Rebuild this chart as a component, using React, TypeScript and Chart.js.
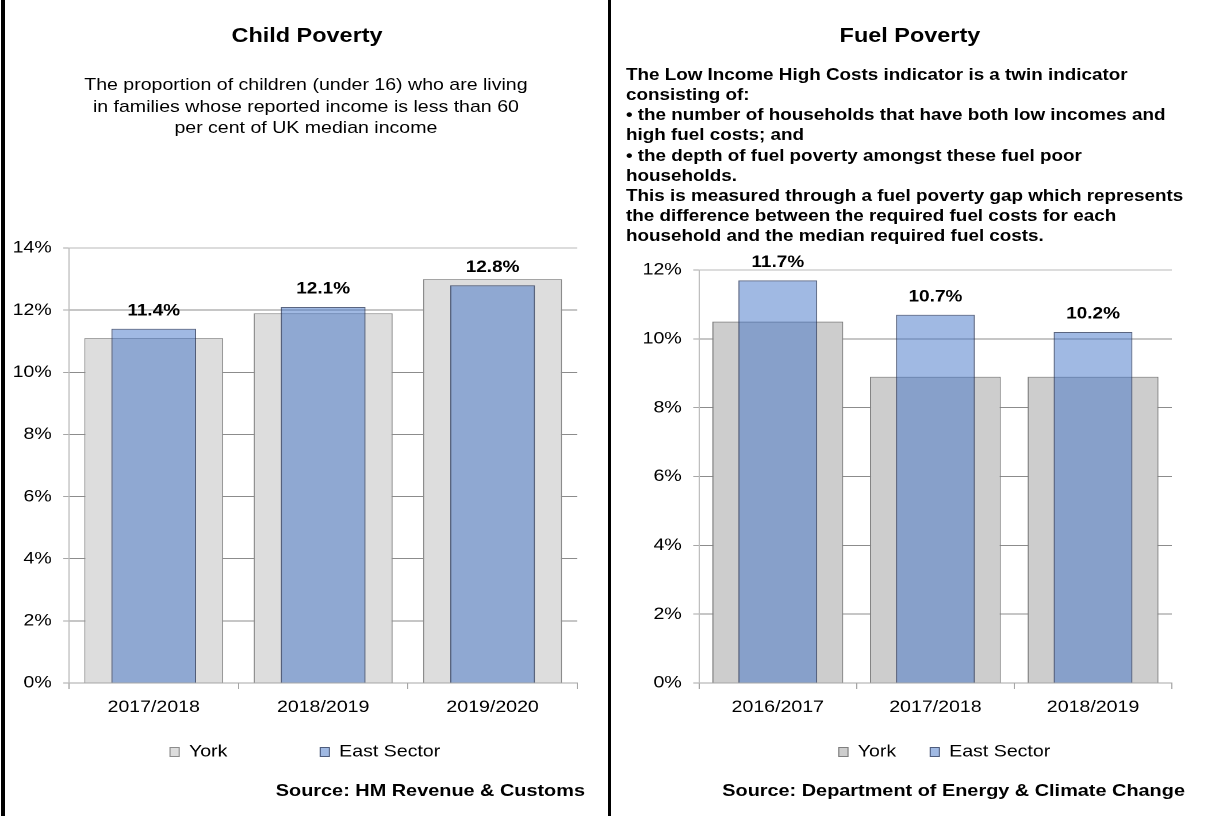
import React, { useEffect, useRef } from 'react';
import { Chart, registerables } from 'chart.js';

Chart.register(...registerables);

// horizontal stretch of the reference rendering
const K = 1.15;
const FONT = "'Liberation Sans', Arial, Helvetica, sans-serif";

// ---------- data ----------
const seriesNames = ['York', 'East Sector'];

const childCategories = ['2017/2018', '2018/2019', '2019/2020'];
const childYork = [11.1, 11.9, 13.0];
const childEast = [11.4, 12.1, 12.8];
const childAxisMax = 14;
const childAxisStep = 2;

const fuelCategories = ['2016/2017', '2017/2018', '2018/2019'];
const fuelYork = [10.5, 8.9, 8.9];
const fuelEast = [11.7, 10.7, 10.2];
const fuelAxisMax = 12;
const fuelAxisStep = 2;

const childTitle = 'Child Poverty';
const childDescription = [
  'The proportion of children (under 16) who are living',
  'in families whose reported income is less than 60',
  'per cent of UK median income',
];
const childSource = 'Source: HM Revenue & Customs';

const fuelTitle = 'Fuel Poverty';
const fuelDescription = [
  'The Low Income High Costs indicator is a twin indicator',
  'consisting of:',
  '\u2022 the number of households that have both low incomes and',
  'high fuel costs; and',
  '\u2022 the depth of fuel poverty amongst these fuel poor',
  'households.',
  'This is measured through a fuel poverty gap which represents',
  'the difference between the required fuel costs for each',
  'household and the median required fuel costs.',
];
const fuelSource = 'Source: Department of Energy & Climate Change';

// ---------- styles ----------
const EAST_FILL = 'rgba(65,115,199,0.5)';
const EAST_BORDER = 'rgba(35,50,85,0.75)';
const AXIS_GREY = '#A6A6A6';

const legendPlace = {
  id: 'legendPlace',
  afterLayout(chart: any, _args: any, opts: any) {
    const lg = chart.legend;
    if (!lg || opts == null || opts.cx == null) return;
    const dx = opts.cx - (lg.left + lg.right) / 2;
    lg.left += dx;
    lg.right += dx;
    const pad = lg.options.labels.padding;
    const itemH = Math.max(lg.options.labels.boxHeight || 0, opts.fontSize);
    lg.top = opts.cy - pad - itemH / 2;
    lg.bottom = opts.cy + itemH / 2 + 6;
  },
};

const barLabels = {
  id: 'barLabels',
  afterDraw(chart: any, _args: any, opts: any) {
    const ctx = chart.ctx;
    const idx = opts.datasetIndex;
    const meta = chart.getDatasetMeta(idx);
    const ds = chart.data.datasets[idx];
    ctx.save();
    ctx.font = `bold ${opts.size}px ${FONT}`;
    ctx.fillStyle = '#000';
    ctx.textAlign = 'center';
    ctx.textBaseline = 'middle';
    meta.data.forEach((el: any, i: number) => {
      ctx.fillText(`${Number(ds.data[i]).toFixed(1)}%`, el.x, el.y - opts.offset);
    });
    ctx.restore();
  },
};

type Spec = {
  categories: string[];
  york: number[];
  east: number[];
  yMax: number;
  yStep: number;
  yorkFill: string;
  yorkBorder: string;
  yorkBar: number;
  eastBar: number;
  left: number;
  top: number;
  width: number;
  height: number;
  padTop: number;
  padRight: number;
  padBottom: number;
  yWidth: number;
  xHeight: number;
  legendGap: number;
  legendCx: number;
  legendCy: number;
};

function makeConfig(s: Spec): any {
  const tickFont = { family: FONT, size: 17 };
  return {
    type: 'bar',
    data: {
      labels: s.categories,
      datasets: [
        {
          label: seriesNames[0],
          data: s.york,
          backgroundColor: s.yorkFill,
          borderColor: s.yorkBorder,
          borderWidth: 1,
          barPercentage: s.yorkBar,
          categoryPercentage: 1,
          order: 2,
        },
        {
          label: seriesNames[1],
          data: s.east,
          backgroundColor: EAST_FILL,
          borderColor: EAST_BORDER,
          borderWidth: 1,
          barPercentage: s.eastBar,
          categoryPercentage: 1,
          order: 1,
        },
      ],
    },
    options: {
      responsive: false,
      animation: false,
      devicePixelRatio: 2,
      events: [],
      layout: { padding: { top: s.padTop, right: s.padRight, bottom: s.padBottom, left: 0 } },
      scales: {
        x: {
          stacked: true,
          offset: true,
          grid: {
            offset: true,
            drawOnChartArea: false,
            drawTicks: true,
            tickLength: 6,
            color: AXIS_GREY,
            lineWidth: 1,
          },
          border: { display: true, color: AXIS_GREY },
          ticks: { font: tickFont, color: '#000', padding: 8, maxRotation: 0 },
          afterFit: (sc: any) => {
            sc.height = s.xHeight;
          },
        },
        y: {
          stacked: false,
          min: 0,
          max: s.yMax,
          z: 1,
          ticks: {
            stepSize: s.yStep,
            font: tickFont,
            color: '#000',
            padding: 10,
            callback: (v: any) => `${v}%`,
          },
          grid: {
            color: (c: any) =>
              c.tick && c.tick.value === s.yMax ? 'rgba(0,0,0,0.28)' : 'rgba(0,0,0,0.45)',
            tickColor: AXIS_GREY,
            tickLength: 5,
            lineWidth: 1,
          },
          border: { color: '#BFBFBF' },
          afterFit: (sc: any) => {
            sc.width = s.yWidth;
          },
        },
      },
      plugins: {
        legend: {
          position: 'bottom',
          maxHeight: 30,
          labels: {
            font: { family: FONT, size: 17 },
            color: '#000',
            boxWidth: 8,
            boxHeight: 9,
            padding: s.legendGap,
            sort: (a: any, b: any) => a.datasetIndex - b.datasetIndex,
          },
        },
        tooltip: { enabled: false },
        legendPlace: { cx: s.legendCx, cy: s.legendCy, fontSize: 17 },
        barLabels: { datasetIndex: 1, size: 16.5, offset: 18 },
      },
    },
    plugins: [legendPlace, barLabels],
  };
}

function BarPanel({ spec }: { spec: Spec }) {
  const ref = useRef<HTMLCanvasElement | null>(null);
  useEffect(() => {
    if (!ref.current) return;
    const chart = new Chart(ref.current, makeConfig(spec));
    return () => chart.destroy();
  }, [spec]);
  return (
    <canvas
      ref={ref}
      width={spec.width}
      height={spec.height}
      style={{
        position: 'absolute',
        left: spec.left,
        top: spec.top,
        width: spec.width,
        height: spec.height,
      }}
    />
  );
}

const childSpec: Spec = {
  categories: childCategories,
  york: childYork,
  east: childEast,
  yMax: childAxisMax,
  yStep: childAxisStep,
  yorkFill: '#DDDDDD',
  yorkBorder: '#8C8C8C',
  yorkBar: 0.82,
  eastBar: 0.5,
  left: 5,
  top: 220,
  width: 511,
  height: 573,
  padTop: 28,
  padRight: 14,
  padBottom: 40,
  yWidth: 55,
  xHeight: 40,
  legendGap: 80.7,
  legendCx: 260.3,
  legendCy: 532,
};

const fuelSpec: Spec = {
  categories: fuelCategories,
  york: fuelYork,
  east: fuelEast,
  yMax: fuelAxisMax,
  yStep: fuelAxisStep,
  yorkFill: '#CDCDCD',
  yorkBorder: '#7F7F7F',
  yorkBar: 0.83,
  eastBar: 0.5,
  left: 533,
  top: 240,
  width: 500,
  height: 553,
  padTop: 30,
  padRight: 14,
  padBottom: 40,
  yWidth: 74.8,
  xHeight: 40,
  legendGap: 29.6,
  legendCx: 288.3,
  legendCy: 512,
};

const textBase: React.CSSProperties = {
  position: 'absolute',
  fontFamily: FONT,
  color: '#000',
  whiteSpace: 'nowrap',
  margin: 0,
};

export default function App() {
  return (
    <div
      style={{
        position: 'fixed',
        left: 0,
        top: 0,
        width: 1213,
        height: 816,
        overflow: 'hidden',
        background: '#fff',
      }}
    >
      <div
        style={{
          position: 'absolute',
          left: 0,
          top: 0,
          width: 1213 / K,
          height: 816,
          transform: `scaleX(${K})`,
          transformOrigin: '0 0',
        }}
      >
        <BarPanel spec={childSpec} />
        <BarPanel spec={fuelSpec} />

        <div
          style={{
            ...textBase,
            left: 267 - 250,
            width: 500,
            top: 23,
            textAlign: 'center',
            fontWeight: 'bold',
            fontSize: 20.4,
            lineHeight: '24px',
          }}
        >
          {childTitle}
        </div>
        <div
          style={{
            ...textBase,
            left: 266 - 250,
            width: 500,
            top: 74,
            textAlign: 'center',
            fontSize: 17,
            lineHeight: '21.5px',
          }}
        >
          {childDescription.map((l, i) => (
            <div key={i}>{l}</div>
          ))}
        </div>
        <div
          style={{
            ...textBase,
            left: 508.7 - 500,
            width: 500,
            top: 779.5,
            textAlign: 'right',
            fontWeight: 'bold',
            fontSize: 17.3,
            lineHeight: '20px',
          }}
        >
          {childSource}
        </div>

        <div
          style={{
            ...textBase,
            left: 791.3 - 250,
            width: 500,
            top: 23,
            textAlign: 'center',
            fontWeight: 'bold',
            fontSize: 20.4,
            lineHeight: '24px',
          }}
        >
          {fuelTitle}
        </div>
        <div
          style={{
            ...textBase,
            left: 544.3,
            top: 63.8,
            fontWeight: 'bold',
            fontSize: 16.4,
            lineHeight: '20.2px',
          }}
        >
          {fuelDescription.map((l, i) => (
            <div key={i}>{l}</div>
          ))}
        </div>
        <div
          style={{
            ...textBase,
            left: 1030.4 - 600,
            width: 600,
            top: 779.5,
            textAlign: 'right',
            fontWeight: 'bold',
            fontSize: 17.3,
            lineHeight: '20px',
          }}
        >
          {fuelSource}
        </div>
      </div>

      <div style={{ position: 'absolute', left: 1, top: 0, width: 4, height: 816, background: '#000' }} />
      <div style={{ position: 'absolute', left: 608, top: 0, width: 3, height: 816, background: '#000' }} />
    </div>
  );
}
